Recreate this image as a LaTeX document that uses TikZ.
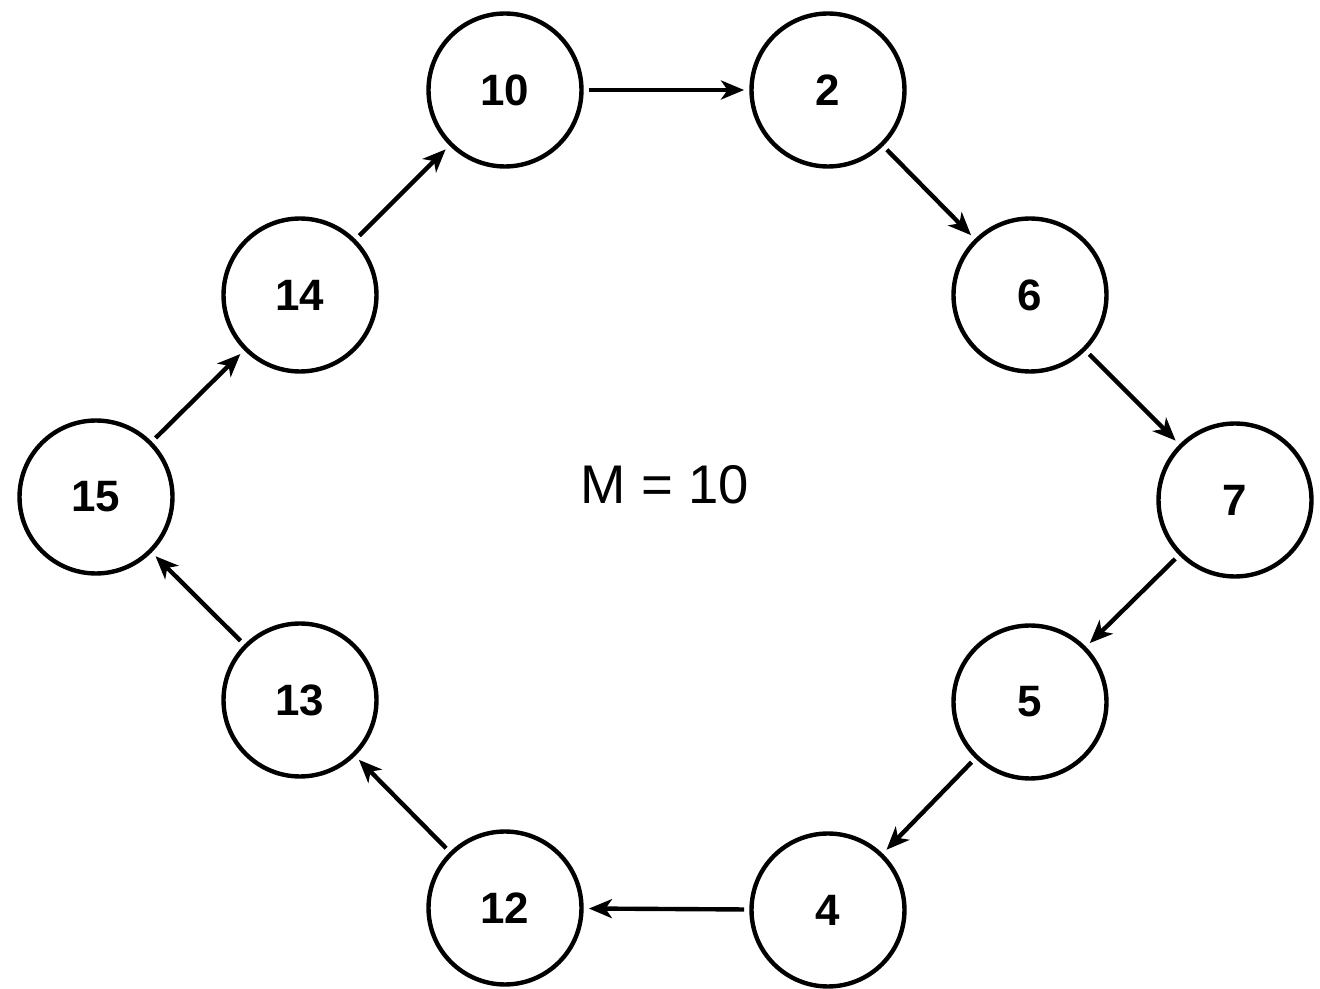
\documentclass[tikz,border=0pt]{standalone}
\usepackage{fontspec}
\setmainfont{Liberation Sans}
\usetikzlibrary{arrows.meta}
\tikzset{
  % --- nodes
  num/.style  = {circle, draw=black, line width=2.5pt, fill=white,
                 minimum size=3.06cm, inner sep=0pt,
                 font=\fontsize{25}{28}\selectfont\bfseries},
  lbl/.style  = {font=\fontsize{31}{34}\selectfont},
  % --- edges
  conn/.style = {-{Stealth[length=4.6mm,width=3.8mm,inset=1.3mm]},
                 draw=black, line width=2.5pt,
                 shorten <=3pt, shorten >=3pt},
}
\begin{document}
\begin{tikzpicture}[x=0.02cm,y=-0.02cm]
  \useasboundingbox (0,0) rectangle (1320,989);
  \node[num] (n10) at (505,90)  {10};
  \node[num] (n2)  at (828,90)  {2};
  \node[num] (n6)  at (1030,295) {6};
  \node[num] (n7)  at (1235,500) {7};
  \node[num] (n5)  at (1030,702) {5};
  \node[num] (n4)  at (828,910) {4};
  \node[num] (n12) at (505,908) {12};
  \node[num] (n13) at (300,700) {13};
  \node[num] (n15) at (96,497)  {15};
  \node[num] (n14) at (300,295) {14};
  \node[lbl] (m) at (665,485) {M = 10};
  \draw[conn] (n10) -- (n2);
  \draw[conn] (n2) -- (n6);
  \draw[conn] (n6) -- (n7);
  \draw[conn] (n7) -- (n5);
  \draw[conn] (n5) -- (n4);
  \draw[conn] (n4) -- (n12);
  \draw[conn] (n12) -- (n13);
  \draw[conn] (n13) -- (n15);
  \draw[conn] (n15) -- (n14);
  \draw[conn] (n14) -- (n10);
\end{tikzpicture}
\end{document}
